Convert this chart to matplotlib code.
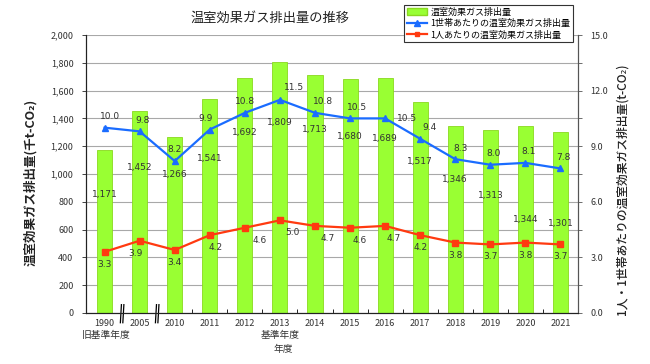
import numpy as np
import matplotlib as mpl
mpl.use('Agg')
import matplotlib.pyplot as plt
from matplotlib.lines import Line2D
from matplotlib.patches import Patch
import matplotlib.transforms as mtrans

plt.rcParams['font.family'] = ['Noto Sans CJK JP', 'DejaVu Sans']

# データ
years = ['1990', '2005', '2010', '2011', '2012', '2013', '2014',
         '2015', '2016', '2017', '2018', '2019', '2020', '2021']
total = [1171, 1452, 1266, 1541, 1692, 1809, 1713,
         1680, 1689, 1517, 1346, 1313, 1344, 1301]
per_household = [10.0, 9.8, 8.2, 9.9, 10.8, 11.5, 10.8,
                 10.5, 10.5, 9.4, 8.3, 8.0, 8.1, 7.8]
per_person = [3.3, 3.9, 3.4, 4.2, 4.6, 5.0, 4.7,
              4.6, 4.7, 4.2, 3.8, 3.7, 3.8, 3.7]

# ラベル位置（見た目合わせ）
bar_label_y = [849, 1050, 993, 1108, 1302, 1374, 1317,
               1273, 1252, 1093, 964, 842, 676, 647]
blue_dx = [4, 2, 0, -3, 0, 10, 6, 5, 16, 7, 4, 2, 2, 2]
blue_dy = [8, 8, 8, 8, 8, 9, 8, 8, 0, 8, 8, 8, 8, 8]
red_dx = [0, -3, 0, 4, 11, 9, 9, 7, 6, 0, 0, 0, 0, 0]

GREEN = '#99ff33'
BLUE = '#1a6cff'
RED = '#ff3a10'
TXT = '#333333'

fig = plt.figure(figsize=(6.5, 3.64), dpi=100)
ax = fig.add_axes([86/650, 51/364, 492/650, 278/364])
ax2 = ax.twinx()

x = np.arange(len(years))
ax.bar(x, total, width=0.43, color=GREEN, edgecolor='#8ad81f', linewidth=0.6, zorder=2)
ax.set_xlim(-0.53, 13.49)
ax.set_ylim(0, 2000)
ax.set_yticks(np.arange(0, 2001, 200))
ax.set_yticklabels([f'{v:,}' for v in range(0, 2001, 200)])
ax.grid(axis='y', color='#a8a8a8', linewidth=0.8, zorder=0)
ax.set_axisbelow(True)

for xi, v, ly in zip(x, total, bar_label_y):
    ax.text(xi, ly, f'{v:,}', ha='center', va='center', fontsize=6.5,
            color=TXT, family='DejaVu Sans', zorder=5)

# 右軸の折れ線
ax2.set_ylim(0, 15)
ax2.plot(x, per_household, color=BLUE, lw=1.6, marker='^', ms=5, zorder=4)
ax2.plot(x, per_person, color=RED, lw=1.6, marker='s', ms=4.5, zorder=4)
for xi, v, dx, dy in zip(x, per_household, blue_dx, blue_dy):
    ax2.annotate(f'{v:.1f}', (xi, v), xytext=(dx, dy), textcoords='offset points',
                 ha='center', va='center', fontsize=6.5, color=TXT, family='DejaVu Sans')
for xi, v, dx in zip(x, per_person, red_dx):
    ax2.annotate(f'{v:.1f}', (xi, v), xytext=(dx, -9), textcoords='offset points',
                 ha='center', va='center', fontsize=6.5, color=TXT, family='DejaVu Sans')

ax2.set_yticks(np.arange(0, 15.1, 3))
ax2.set_yticks(np.arange(0, 15.1, 1.5), minor=True)
ax2.set_yticklabels([f'{v:.1f}' for v in np.arange(0, 15.1, 3)])

# 軸の見た目
for a in (ax, ax2):
    a.spines['top'].set_visible(False)
    a.spines['left'].set_color('#222222')
    a.spines['bottom'].set_color('#222222')
    a.spines['right'].set_color('#555555')
ax.tick_params(axis='y', labelsize=6.5, length=3, width=0.6, colors='#222222',
               labelcolor=TXT, pad=6)
ax2.tick_params(axis='y', which='both', labelsize=6.5, length=3, width=0.6,
                colors='#555555', labelcolor=TXT, pad=6)
ax2.tick_params(axis='y', which='minor', length=3)

ax.set_xticks(x + 0.5)
ax.set_xticks(x, minor=True)
ax.set_xticklabels([])
ax.set_xticklabels(years, minor=True)
ax.tick_params(axis='x', which='major', direction='in', length=3, width=0.6)
ax.tick_params(axis='x', which='minor', length=0, labelsize=6.5, labelcolor=TXT, pad=4)

# 波線（省略記号）
tr = mtrans.blended_transform_factory(ax.transData, ax.transAxes)
for bx in (0.5, 1.5):
    ax.add_patch(plt.Rectangle((bx - 0.05, -0.03), 0.1, 0.055, transform=tr,
                               facecolor='white', edgecolor='none', clip_on=False, zorder=6))
    for off in (-0.035, 0.035):
        ax.plot([bx + off - 0.015, bx + off + 0.015], [-0.035, 0.03], transform=tr,
                color='black', lw=0.9, clip_on=False, zorder=7)

fig.text(106/650, 1 - 335/364, '旧基準年度', ha='center', va='center', fontsize=7, color=TXT)
fig.text(280/650, 1 - 335/364, '基準年度', ha='center', va='center', fontsize=7, color=TXT)
fig.text(283/650, 1 - 349/364, '年度', ha='center', va='center', fontsize=7, color=TXT)

fig.text(30/650, 0.5, '温室効果ガス排出量(千t-CO₂)', rotation=90, ha='center', va='center',
         fontsize=9, fontweight='bold', color='#222222',
         family=['Noto Sans CJK JP', 'DejaVu Sans'])
fig.text(622/650, 0.48, '1人・1世帯あたりの温室効果ガス排出量(t-CO₂)', rotation=90,
         ha='center', va='center', fontsize=8.5, fontweight='medium', color='#222222',
         family=['Noto Sans CJK JP', 'DejaVu Sans'])

fig.text(270/650, 1 - 18/364, '温室効果ガス排出量の推移', ha='center', va='center',
         fontsize=9.5, color='#222222')

handles = [Patch(facecolor=GREEN, edgecolor='#8ad81f'),
           Line2D([], [], color=BLUE, lw=1.6, marker='^', ms=4),
           Line2D([], [], color=RED, lw=1.6, marker='s', ms=3.5)]
labels = ['温室効果ガス排出量', '1世帯あたりの温室効果ガス排出量', '1人あたりの温室効果ガス排出量']
leg = fig.legend(handles, labels, loc='upper right', bbox_to_anchor=(573/650, 1 - 5/364),
                 fontsize=6.5, frameon=True, fancybox=False, edgecolor='#333333',
                 framealpha=1, handlelength=2.2, handleheight=0.7, labelspacing=0.25,
                 borderpad=0.3, handletextpad=0.4, borderaxespad=0)
leg.get_frame().set_linewidth(0.8)
leg.set_zorder(10)

plt.savefig('out.png', dpi=100)
